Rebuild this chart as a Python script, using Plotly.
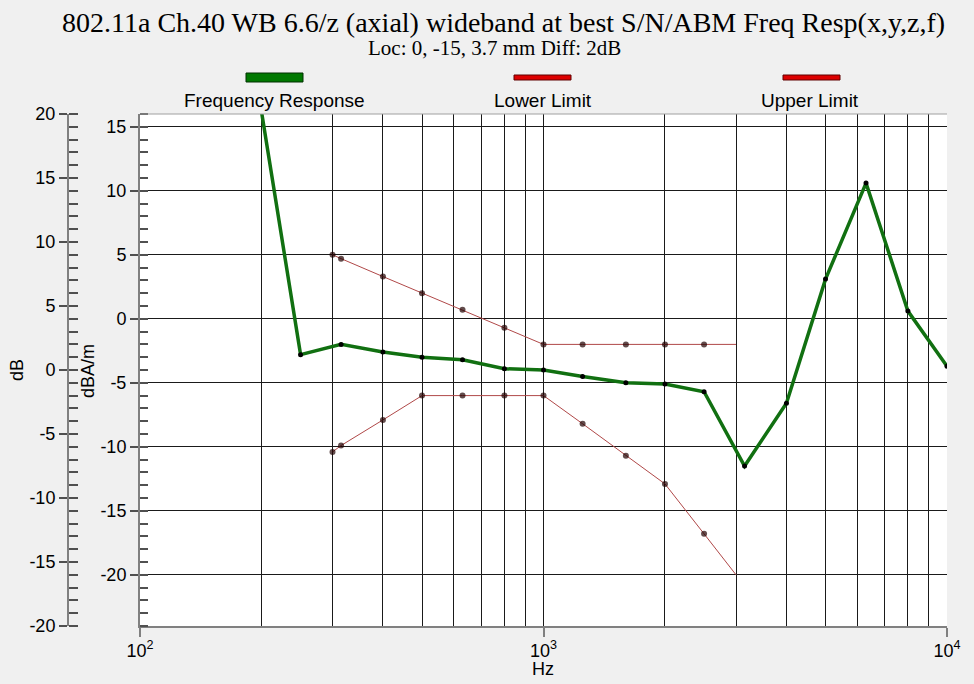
import plotly.graph_objects as go

# ---------------- data ----------------
freq_resp_hz = [200, 250, 315, 400, 500, 630, 800, 1000, 1250, 1600, 2000,
                2500, 3150, 4000, 5000, 6300, 8000, 10000]
freq_resp_dbam = [16.2, -2.8, -2.0, -2.6, -3.0, -3.2, -3.9, -4.0, -4.5, -5.0,
                  -5.1, -5.7, -11.5, -6.6, 3.1, 10.6, 0.6, -3.7]

limit_hz = [300, 315, 400, 500, 630, 800, 1000, 1250, 1600, 2000, 2500, 3000]
upper_limit_dbam = [5.0, 4.7, 3.3, 2.0, 0.7, -0.7, -2.0, -2.0, -2.0, -2.0, -2.0, -2.0]
lower_limit_dbam = [-10.4, -9.9, -7.9, -6.0, -6.0, -6.0, -6.0, -8.2, -10.7, -12.9, -16.8, -20.0]

x_tick_vals = [100, 1000, 10000]
x_tick_text = ["10<sup>2</sup>", "10<sup>3</sup>", "10<sup>4</sup>"]
x_minor_vals = [200, 300, 400, 500, 600, 700, 800, 900,
                2000, 3000, 4000, 5000, 6000, 7000, 8000, 9000]

dbam_tick_vals = [15, 10, 5, 0, -5, -10, -15, -20]
dbam_tick_text = ["15", "10", "5", "0", "-5", "-10", "-15", "-20"]
db_tick_vals = [20, 15, 10, 5, 0, -5, -10, -15, -20]
db_tick_text = ["20", "15", "10", "5", "0", "-5", "-10", "-15", "-20"]

dbam_range = [-24, 16]
db_range = [-20, 20]

title_text = "802.11a Ch.40 WB 6.6/z (axial) wideband at best S/N/ABM Freq Resp(x,y,z,f)"
subtitle_text = "Loc: 0, -15, 3.7 mm Diff: 2dB"
legend_names = ["Frequency Response", "Lower Limit", "Upper Limit"]

# ---------------- layout geometry ----------------
W, H = 974, 684
ML, MR, MT, MB = 0, 27, 114, 58
PW = W - ML - MR
PH = H - MT - MB


def px_x(px):
    return (px - ML) / PW


def px_y(py):
    return (H - MB - py) / PH


SANS = "Liberation Sans, Arial, sans-serif"
SERIF = "Liberation Serif, Times New Roman, serif"
AXIS_GREY = "#808080"
TICK_GREY = "#505050"
GRID = "#1a1a1a"
GREEN = "#117011"
RED_LINE = "#b04848"
RED_MARK = "#200000"

fig = go.Figure()

limit_marker_sizes = [6] * (len(limit_hz) - 1) + [0]

fig.add_trace(go.Scatter(
    x=limit_hz, y=lower_limit_dbam, mode="lines+markers", name=legend_names[1],
    line=dict(color=RED_LINE, width=1),
    marker=dict(color=RED_MARK, size=limit_marker_sizes, line=dict(width=0)),
    showlegend=False, hoverinfo="x+y"))
fig.add_trace(go.Scatter(
    x=limit_hz, y=upper_limit_dbam, mode="lines+markers", name=legend_names[2],
    line=dict(color=RED_LINE, width=1),
    marker=dict(color=RED_MARK, size=limit_marker_sizes, line=dict(width=0)),
    showlegend=False, hoverinfo="x+y"))
fig.add_trace(go.Scatter(
    x=freq_resp_hz, y=freq_resp_dbam, mode="lines+markers", name=legend_names[0],
    line=dict(color=GREEN, width=3.5),
    marker=dict(color="#000000", size=5, line=dict(width=0)),
    showlegend=False, hoverinfo="x+y"))
# empty trace to carry the outer dB axis
fig.add_trace(go.Scatter(x=[], y=[], yaxis="y2", showlegend=False, hoverinfo="skip"))

fig.update_layout(
    template="none",
    width=W, height=H,
    margin=dict(l=ML, r=MR, t=MT, b=MB, pad=0, autoexpand=False),
    paper_bgcolor="#f0f0f0",
    plot_bgcolor="#ffffff",
    font=dict(family=SANS, size=18, color="#000000"),
    showlegend=False,
    xaxis=dict(
        type="log", range=[2, 4], domain=[px_x(140), 1], automargin=False,
        tickmode="array", tickvals=x_tick_vals, ticktext=x_tick_text,
        ticks="outside", ticklen=9, tickwidth=2, tickcolor=AXIS_GREY,
        ticklabelstandoff=-2,
        showline=True, linecolor=AXIS_GREY, linewidth=2,
        showgrid=True, gridcolor=GRID, gridwidth=1,
        minor=dict(tickmode="array", tickvals=x_minor_vals, showgrid=True,
                   gridcolor=GRID, gridwidth=1, ticks=""),
        tickfont=dict(size=18, color="#000000"), zeroline=False,
    ),
    yaxis=dict(
        range=dbam_range, tickmode="array", tickvals=dbam_tick_vals,
        ticktext=dbam_tick_text, automargin=False,
        ticks="outside", ticklen=8, tickwidth=1.5, tickcolor=TICK_GREY,
        showline=True, linecolor=AXIS_GREY, linewidth=2,
        showgrid=True, gridcolor=GRID, gridwidth=1, zeroline=False,
        minor=dict(ticks="inside", dtick=1, tick0=0, ticklen=8, tickwidth=1.5,
                   tickcolor=TICK_GREY, showgrid=False),
        tickfont=dict(size=18, color="#000000"),
    ),
    yaxis2=dict(
        range=db_range, overlaying="y", anchor="free", side="left", automargin=False,
        position=px_x(68), tickmode="array", tickvals=db_tick_vals,
        ticktext=db_tick_text,
        ticks="outside", ticklen=8, tickwidth=1.5, tickcolor=TICK_GREY,
        showline=True, linecolor=AXIS_GREY, linewidth=2,
        showgrid=False, zeroline=False,
        minor=dict(ticks="inside", dtick=1, tick0=0, ticklen=9, tickwidth=1.5,
                   tickcolor=TICK_GREY, showgrid=False),
        tickfont=dict(size=18, color="#000000"),
    ),
)

annotations = [
    dict(text=title_text, x=px_x(503), y=px_y(22), font=dict(family=SERIF, size=28)),
    dict(text=subtitle_text, x=px_x(494), y=px_y(48), font=dict(family=SERIF, size=21)),
    dict(text="dB", x=px_x(17), y=px_y(370), textangle=-90, font=dict(size=18)),
    dict(text="dBA/m", x=px_x(88), y=px_y(371), textangle=-90, font=dict(size=18)),
    dict(text="Hz", x=px_x(543), y=px_y(669), font=dict(size=18)),
]
legend_centers = [274, 543, 810]
for name, cx in zip(legend_names, legend_centers):
    annotations.append(dict(text=name, x=px_x(cx), y=px_y(100), font=dict(size=19)))
for a in annotations:
    a.update(xref="paper", yref="paper", showarrow=False, xanchor="center", yanchor="middle")
fig.update_layout(annotations=annotations)

shapes = [
    dict(x0=px_x(246), x1=px_x(303), y0=px_y(82), y1=px_y(73),
         fillcolor="#007800", line=dict(color="#003000", width=1)),
    dict(x0=px_x(514), x1=px_x(571), y0=px_y(80), y1=px_y(75),
         fillcolor="#dd0000", line=dict(color="#600000", width=1)),
    dict(x0=px_x(783), x1=px_x(840), y0=px_y(80), y1=px_y(75),
         fillcolor="#dd0000", line=dict(color="#600000", width=1)),
    # thin border along the top of the plot area
    dict(x0=px_x(140), x1=1, y0=1, y1=1, type="line", line=dict(color="#a0a0a0", width=1)),
]
for s in shapes:
    s.setdefault("type", "rect")
    s.update(xref="paper", yref="paper", layer="above")
fig.update_layout(shapes=shapes)

fig.write_html("out.html", config={"displayModeBar": False},
               post_script="document.body.style.margin='0';")
